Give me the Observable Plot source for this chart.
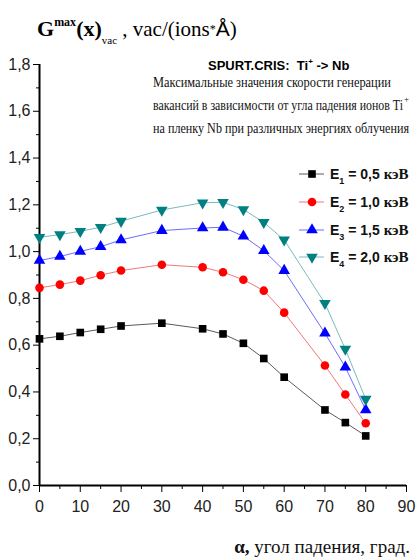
<!DOCTYPE html>
<html>
<head>
<meta charset="utf-8">
<script src="https://cdn.jsdelivr.net/npm/d3@7"></script>
<script src="https://cdn.jsdelivr.net/npm/@observablehq/plot@0.6"></script>
<style>
  html, body { margin: 0; padding: 0; background: #fff; }
  #chart svg { display: block; overflow: visible; }
</style>
</head>
<body>
<div id="chart"></div>
<script>
// Angle of incidence, degrees
const angles = [0, 5, 10, 15, 20, 30, 40, 45, 50, 55, 60, 70, 75, 80];
// Maximum vacancy generation rate, vac/(ions*Å), one array per ion energy
const e1 = [0.627, 0.638, 0.654, 0.668, 0.682, 0.694, 0.670, 0.648, 0.608, 0.543, 0.463, 0.323, 0.269, 0.212];
const e2 = [0.845, 0.859, 0.876, 0.899, 0.919, 0.944, 0.933, 0.912, 0.880, 0.833, 0.739, 0.513, 0.389, 0.266];
const e3 = [0.962, 0.979, 1.001, 1.021, 1.050, 1.090, 1.101, 1.104, 1.066, 1.004, 0.919, 0.651, 0.506, 0.323];
const e4 = [1.061, 1.073, 1.087, 1.104, 1.130, 1.178, 1.209, 1.211, 1.180, 1.125, 1.050, 0.779, 0.583, 0.369];

const seriesValues = [e1, e2, e3, e4];
const seriesSub = ["1", "2", "3", "4"];
const energies = ["0,5", "1,0", "1,5", "2,0"];
const markerColors = ["#000000", "#ff0000", "#0000ff", "#008080"];
const lineColors = ["#5a5a5a", "#f07878", "#6c6cff", "#78bcbc"];
const symbols = ["square", "circle", "triangle", "triangle"];
const rotations = [0, 0, 0, 180];

const yTicks = [0, 0.2, 0.4, 0.6, 0.8, 1.0, 1.2, 1.4, 1.6, 1.8];
const yMinor = [0.1, 0.3, 0.5, 0.7, 0.9, 1.1, 1.3, 1.5, 1.7];
const xTicks = [0, 10, 20, 30, 40, 50, 60, 70, 80, 90];
const xMinor = [5, 15, 25, 35, 45, 55, 65, 75, 85];

const commaFmt = d => d3.format(".1f")(d).replace(".", ",");

const W = 416, H = 560;
const tickFont = "'Liberation Sans Narrow', 'Liberation Sans', Arial, sans-serif";

const rows = seriesValues.map((vals, s) => angles.map((a, i) => ({angle: a, value: vals[i], s})));

const marks = [];
rows.forEach((data, s) => {
  marks.push(Plot.line(data, {x: "angle", y: "value", stroke: lineColors[s], strokeWidth: 1}));
});
rows.forEach((data, s) => {
  marks.push(Plot.dot(data, {
    x: "angle", y: "value", symbol: symbols[s], r: 4.3,
    fill: markerColors[s], stroke: "none", rotate: rotations[s]
  }));
});

const chart = Plot.plot({
  width: W,
  height: H,
  marginLeft: 39,
  marginRight: 10,
  marginTop: 64,
  marginBottom: 75,
  style: {fontFamily: tickFont, fontSize: "16px", color: "#000", background: "#fff"},
  x: {domain: [0, 90], label: null},
  y: {domain: [0, 1.8], label: null},
  marks: [
    Plot.axisY(yMinor, {tickSize: 3, tickFormat: () => ""}),
    Plot.axisY(yTicks, {tickSize: 6, tickPadding: 3, tickFormat: commaFmt, fill: "#222"}),
    Plot.axisX(xMinor, {tickSize: 4, tickFormat: () => ""}),
    Plot.axisX(xTicks, {tickSize: 7, tickPadding: 8, tickFormat: d => String(d), fill: "#222"}),
    Plot.ruleX([0], {y1: 0, y2: 1.8, stroke: "#000", strokeWidth: 2}),
    Plot.ruleY([0], {x1: 0, x2: 90, stroke: "#000", strokeWidth: 2}),
    ...marks
  ]
});

document.getElementById("chart").appendChild(chart);

const svg = d3.select(chart);
const serif = "'Liberation Serif', 'Times New Roman', serif";
const layer = svg.append("g").attr("text-anchor", "start");

// Axis title: G^max(x)_vac , vac/(ions*Å)
const title = layer.append("text")
  .attr("x", 37).attr("y", 36)
  .attr("font-family", serif).attr("fill", "#000");
title.append("tspan").attr("font-size", 22).attr("font-weight", "bold").text("G");
title.append("tspan").attr("font-size", 12).attr("font-weight", "bold").attr("dy", -10).text("max");
title.append("tspan").attr("font-size", 22).attr("font-weight", "bold").attr("dy", 10).text("(x)");
title.append("tspan").attr("font-size", 11).attr("dy", 8).text("vac");
title.append("tspan").attr("font-size", 21).attr("dy", -8).text(" , vac/(ions");
title.append("tspan").attr("font-size", 12).attr("dy", -3).text("*");
title.append("tspan").attr("font-size", 21).attr("dy", 3).attr("font-family", "'Liberation Sans', Arial, sans-serif").text("Å");
title.append("tspan").attr("font-size", 21).text(")");

// Simulation header
const head = layer.append("text")
  .attr("x", 208).attr("y", 70)
  .attr("font-family", tickFont).attr("font-weight", "bold").attr("font-size", 13).attr("fill", "#000");
head.append("tspan").text("SPURT.CRIS:  Ti");
head.append("tspan").attr("font-size", 8).attr("dy", -6).text("+");
head.append("tspan").attr("dy", 6).text(" -> Nb");

// Description lines
const desc = [
  {text: "Максимальные значения скорости генерации", len: 238, y: 87},
  {text: "вакансий в зависимости от угла падения ионов Ti", len: 250, y: 110, sup: "+"},
  {text: "на пленку Nb при различных энергиях облучения", len: 256, y: 133}
];
desc.forEach(d => {
  layer.append("text")
    .attr("x", 153).attr("y", d.y)
    .attr("font-family", serif).attr("font-size", 15).attr("fill", "#111")
    .attr("textLength", d.len).attr("lengthAdjust", "spacingAndGlyphs")
    .text(d.text);
  if (d.sup) {
    layer.append("text")
      .attr("x", 153 + d.len + 1).attr("y", d.y - 8)
      .attr("font-family", serif).attr("font-size", 9).attr("fill", "#111")
      .text(d.sup);
  }
});

// Legend
const legendY = [174, 202, 230, 257];
seriesValues.forEach((_, s) => {
  const g = layer.append("g").attr("transform", `translate(0,${legendY[s]})`);
  g.append("line").attr("x1", 299).attr("x2", 324).attr("y1", 0).attr("y2", 0)
    .attr("stroke", lineColors[s]).attr("stroke-width", 1);
  const sym = d3.symbol().type(
    symbols[s] === "square" ? d3.symbolSquare : symbols[s] === "circle" ? d3.symbolCircle : d3.symbolTriangle
  ).size(Math.PI * 4.3 * 4.3);
  g.append("path").attr("d", sym())
    .attr("transform", `translate(312,0) rotate(${rotations[s]})`)
    .attr("fill", markerColors[s]);
  const t = g.append("text").attr("x", 330).attr("y", 5)
    .attr("font-family", tickFont).attr("font-weight", "bold").attr("font-size", 14).attr("fill", "#111");
  t.append("tspan").text("E");
  t.append("tspan").attr("font-size", 9).attr("dy", 5).text(seriesSub[s]);
  t.append("tspan").attr("dy", -5).text(` = ${energies[s]} `);
  t.append("tspan").attr("font-family", serif).attr("font-size", 15).text("кэВ");
});

// X axis title
const xt = layer.append("text")
  .attr("x", 410).attr("y", 553).attr("text-anchor", "end")
  .attr("font-family", serif).attr("font-size", 19).attr("fill", "#111");
xt.append("tspan").attr("font-weight", "bold").text("α,");
xt.append("tspan").text(" угол падения, град.");
</script>
</body>
</html>
